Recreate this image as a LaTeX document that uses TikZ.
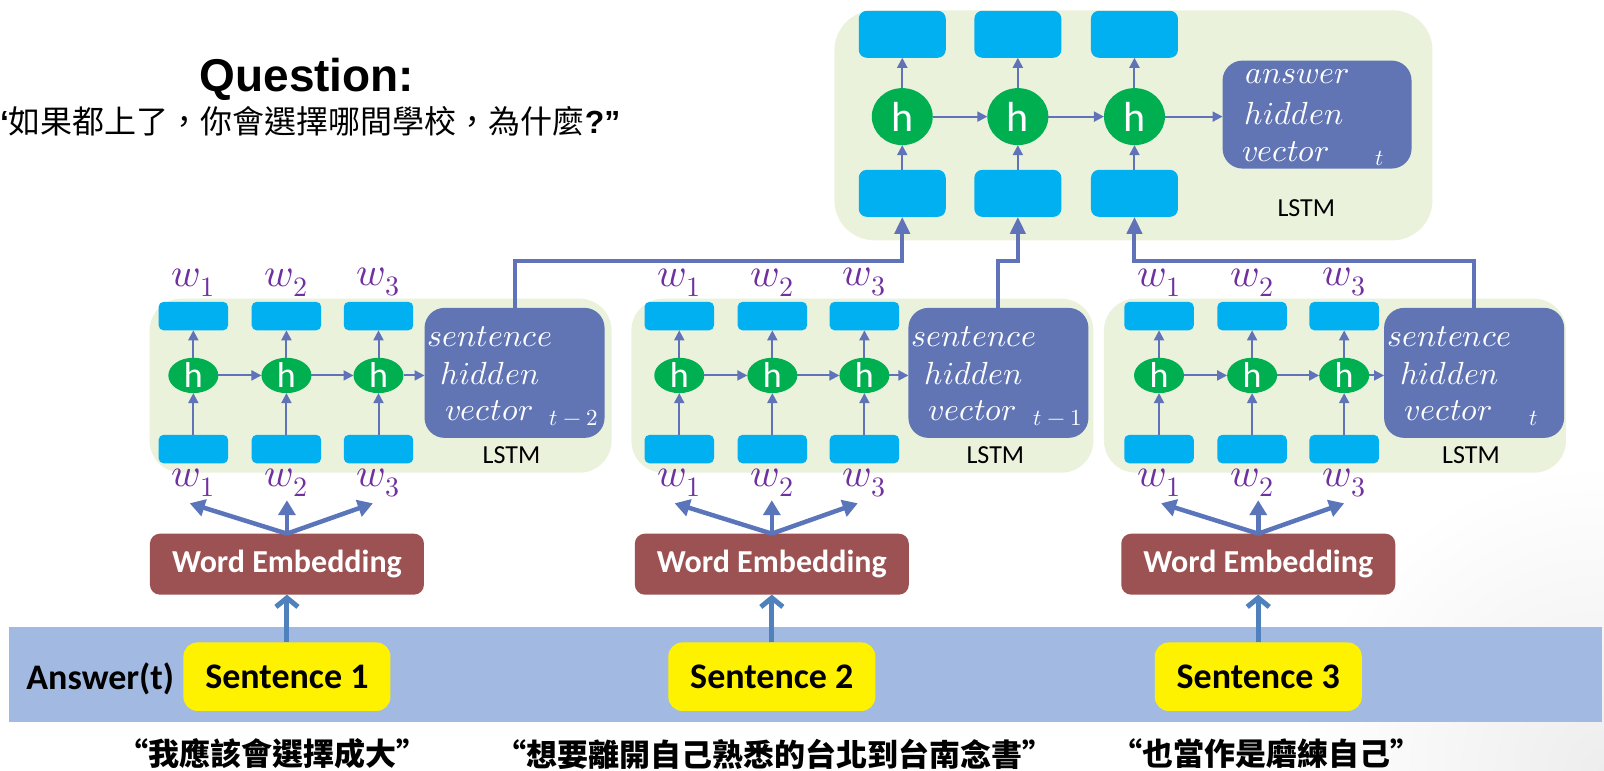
\documentclass[tikz,border=0pt]{standalone}
\usepackage{fontspec}
\usepackage{unicode-math}
\setmainfont{Carlito}
\setmathfont{Latin Modern Math}
\newfontfamily\arialf{Liberation Sans}
\newfontfamily\cjk{Noto Sans CJK TC}
\usetikzlibrary{arrows.meta,shapes.geometric}
\newcommand\fsz[1]{\fontsize{#1}{#1}\selectfont}
\definecolor{lstmc}{RGB}{234,242,220}
\definecolor{cellc}{RGB}{0,176,240}
\definecolor{hc}{RGB}{0,176,80}
\definecolor{vecc}{RGB}{97,117,181}
\definecolor{arrc}{RGB}{96,114,184}
\definecolor{arrcb}{RGB}{91,117,186}
\definecolor{wec}{RGB}{156,82,82}
\definecolor{bandc}{RGB}{162,186,226}
\definecolor{wc}{RGB}{112,48,160}
\definecolor{sarrc}{RGB}{79,129,189}
\tikzset{
  every node/.style={inner sep=0pt, outer sep=0pt},
  lstmbg/.style={fill=lstmc, rounded corners=32pt},
  cell/.style={fill=cellc, rounded corners=5pt, minimum width=69.5pt, minimum height=28.5pt},
  tcell/.style={fill=cellc, rounded corners=8pt, minimum width=87pt, minimum height=47pt},
  hnode/.style={ellipse, fill=hc, text=white, minimum width=50pt, minimum height=35pt, font=\fsz{36}},
  thnode/.style={ellipse, fill=hc, text=white, minimum width=61pt, minimum height=57pt, font=\fsz{42}},
  vecbox/.style={fill=vecc, rounded corners=20pt},
  vtext/.style={text=white, font=\fsz{32}},
  wlab/.style={text=wc, font=\fsz{40}},
  lstmlab/.style={font=\fsz{26}},
  tarr/.style={draw=arrc, line width=2pt, -{Triangle[length=10pt,width=10pt]}},
  conn/.style={draw=arrc, line width=4pt, -{Triangle[length=17pt,width=15pt]}},
  wearr/.style={draw=arrcb, line width=4.5pt, -{Triangle[length=15pt,width=17pt]}},
  sarrow/.style={draw=sarrc, line width=5pt, -{Straight Barb[length=9pt,width=22pt]}},
  webox/.style={fill=wec, rounded corners=10pt, text=white, font=\fsz{32}\bfseries, minimum width=274pt, minimum height=61pt},
  sbox/.style={fill=yellow, rounded corners=14pt, font=\fsz{36}\bfseries, minimum width=207pt, minimum height=68.5pt},
  quote/.style={font=\cjk\bfseries\fsz{31}},
}
% #1 suffix, #2 inner offset, #3 box offset, #4 green offset, #5 subscript
\newcommand\lstmblock[5]{%
  \node[lstmbg, minimum width=462pt, minimum height=174pt] (g#1) at (372+#4,377) {};
  \foreach \i/\x in {1/189,2/280,3/370} {
    \node[cell] (t#1\i) at (\x+#2,309) {};
    \node[cell] (b#1\i) at (\x+#2,439) {};
    \node[hnode] (h#1\i) at (\x+#2,367) {h};
    \node[wlab] (wt#1\i) at (\x+#2,276) {$w_{\i}$};
    \node[wlab] (wb#1\i) at (\x+#2,472) {$w_{\i}$};
    \draw[tarr] (b#1\i) -- (h#1\i);
    \draw[tarr] (h#1\i) -- (t#1\i);
  }
  \node[vecbox, minimum width=180pt, minimum height=130pt] (v#1) at (503+#3,364.5) {};
  \node[vtext] (vs#1) at (479+#3,329) {$sentence$};
  \node[vtext] (vh#1) at (479+#3,365) {$hidden$};
  \node[vtext] (vv#1) at (478+#3,401) {$vector$};
  \node[vtext, font=\fsz{23}] (vt#1) at (561+#3,409) {$#5$};
  \node[lstmlab] (l#1) at (500+#3,445) {LSTM};
  \draw[tarr] (h#11) -- (h#12);
  \draw[tarr] (h#12) -- (h#13);
  \draw[tarr] (h#13) -- (h#13 -| v#1.west);
}
\begin{document}
\begin{tikzpicture}[x=1.023pt,y=-1.023pt]
\useasboundingbox (0,0) rectangle (1568,753);
\fill[white] (0,0) rectangle (1568,753);
\begin{scope}
  \clip (0,0) rectangle (1568,753);
  \shade[inner color=black!7, outer color=white] (1568,753) circle (300);
\end{scope}

% question
\node[font=\arialf\bfseries\fsz{46}] (q) at (300,78) {Question:};
\node[anchor=west] (qz) at (0,119) {{\arialf\bfseries\fsz{32}‘}{\cjk\fsz{32}如果都上了，你會選擇哪間學校，為什麼}{\arialf\bfseries\fsz{32}?”}};

% top LSTM
\node[lstmbg, rounded corners=40pt, minimum width=598pt, minimum height=230pt] (gT) at (1108,122.5) {};
\foreach \i/\x in {1/882,2/995,3/1109} {
  \node[tcell] (tt\i) at (\x,33.5) {};
  \node[tcell] (tb\i) at (\x,189) {};
  \node[thnode] (th\i) at (\x,114) {h};
  \draw[tarr] (tb\i) -- (th\i);
  \draw[tarr] (th\i) -- (tt\i);
}
\node[vecbox, minimum width=189pt, minimum height=108pt] (va) at (1287.5,112) {};
\node[vtext] (va1) at (1268,75) {$answer$};
\node[vtext] (va2) at (1265,111) {$hidden$};
\node[vtext] (va3) at (1257,148) {$vector$};
\node[vtext, font=\fsz{23}] (va4) at (1349,155) {$t$};
\node[lstmlab] (lT) at (1277,203) {LSTM};
\draw[tarr] (th1) -- (th2);
\draw[tarr] (th2) -- (th3);
\draw[tarr] (th3) -- (th3 -| va.west);

% sentence LSTMs
\lstmblock{A}{0}{0}{0}{t-2}
\lstmblock{B}{475}{473}{471}{t-1}
\lstmblock{C}{944}{938}{933}{t}

% connectors to top LSTM
\draw[conn] (vA.north) -- ++(0,-46) -| (tb1.south);
\draw[conn] (vB.north) -- ++(0,-46) -| (tb2.south);
\draw[conn] (vC.north) -- ++(0,-46) -| (tb3.south);

% band
\fill[bandc] (9,613) rectangle (1566,706);
\node[font=\bfseries\fsz{36}] (ans) at (98,664) {Answer(t)};

% word embeddings and sentences
\foreach \k/\cx in {1/280.5,2/754.5,3/1230} {
  \node[webox] (we\k) at (\cx,551.5) {Word Embedding};
  \node[sbox] (s\k) at (\cx,661.5) {Sentence \k};
  \coordinate (wl\k) at (\cx-95,492);
  \coordinate (wm\k) at (\cx,489);
  \coordinate (wr\k) at (\cx+84,492);
  \draw[wearr] (we\k.north) -- (wl\k);
  \draw[wearr] (we\k.north) -- (wm\k);
  \draw[wearr] (we\k.north) -- (wr\k);
  \draw[sarrow] (s\k.north) -- (we\k.south);
}

% quotes
\node[quote] (c1) at (266,737) {“我應該會選擇成大”};
\node[quote] (c2) at (757,737) {“想要離開自己熟悉的台北到台南念書”};
\node[quote] (c3) at (1238,737) {“也當作是磨練自己”};
\end{tikzpicture}
\end{document}
